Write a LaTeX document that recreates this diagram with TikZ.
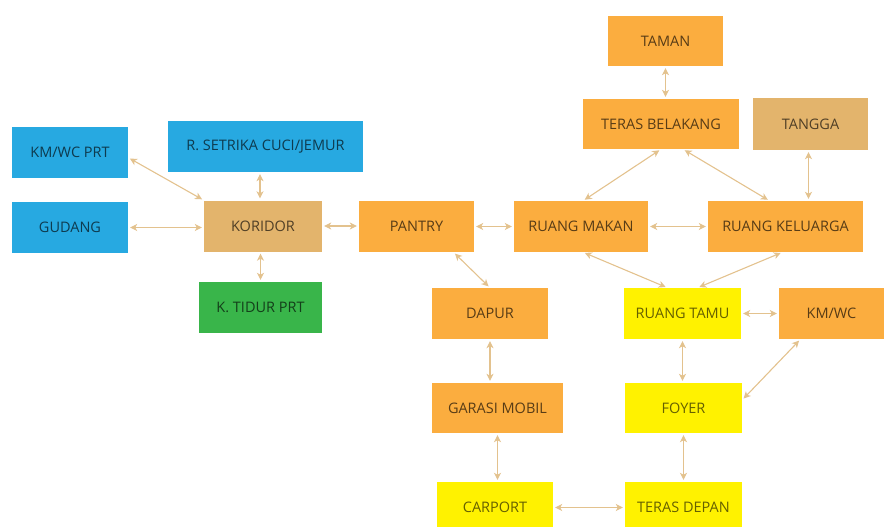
\documentclass[tikz,border=0pt]{standalone}
\usepackage{fontspec}
\setmainfont{Open Sans}
\usepackage{tikz}
\usetikzlibrary{positioning, arrows.meta, calc}

\definecolor{biru}{HTML}{27A9E1}
\definecolor{coklat}{HTML}{E3B46C}
\definecolor{oranye}{HTML}{FBAD3F}
\definecolor{kuning}{HTML}{FFF200}
\definecolor{hijau}{HTML}{39B54A}
\definecolor{panah}{HTML}{E3C28E}

\tikzset{
  room/.style={rectangle, inner sep=0pt, minimum height=51pt, font=\fontsize{14.5}{16}\selectfont},
  rblue/.style={room, fill=biru, text=biru!35!black},
  rtan/.style={room, fill=coklat, text=coklat!35!black},
  rorange/.style={room, fill=oranye, text=oranye!35!black},
  ryellow/.style={room, fill=kuning, text=kuning!40!black},
  rgreen/.style={room, fill=hijau, text=hijau!35!black},
  link/.style={draw=panah, line width=1.1pt, {Stealth[length=7pt,width=7pt,inset=2pt]}-{Stealth[length=7pt,width=7pt,inset=2pt]}, shorten >=2pt, shorten <=2pt}
}

\begin{document}
\begin{tikzpicture}[x=1pt, y=-1pt]
    \useasboundingbox (0,0) rectangle (884,527);

    % Service wing
    \node[rblue, minimum width=116pt] (kmwcprt) at (70,152.5) {KM/WC PRT};
    \node[rblue, minimum width=195pt] (setrika) at (265.5,146.5) {R. SETRIKA CUCI/JEMUR};
    \node[rblue, minimum width=116pt] (gudang) at (70,227.5) {GUDANG};
    \node[rtan, minimum width=118pt] (koridor) at (263,226) {KORIDOR};
    \node[rgreen, minimum width=123pt] (tidur) at (260.5,307.5) {K. TIDUR PRT};

    % Main rooms
    \node[rorange, minimum width=115pt] (pantry) at (416.5,226.5) {PANTRY};
    \node[rorange, minimum width=134pt] (makan) at (581,226.5) {RUANG MAKAN};
    \node[rorange, minimum width=155pt] (keluarga) at (785.5,226.5) {RUANG KELUARGA};
    \node[rorange, minimum width=115pt, minimum height=50pt] (taman) at (665.5,41) {TAMAN};
    \node[rorange, minimum width=156pt, minimum height=50pt] (belakang) at (661,124) {TERAS BELAKANG};
    \node[rtan, minimum width=115pt, minimum height=52pt] (tangga) at (810.5,124) {TANGGA};
    \node[rorange, minimum width=116pt] (dapur) at (490,313.5) {DAPUR};
    \node[ryellow, minimum width=117pt] (tamu) at (682.5,313.5) {RUANG TAMU};
    \node[rorange, minimum width=105pt] (kmwc) at (831.5,313.5) {KM/WC};
    \node[rorange, minimum width=131pt, minimum height=50pt] (garasi) at (497.5,408) {GARASI MOBIL};
    \node[ryellow, minimum width=117pt, minimum height=50pt] (foyer) at (683.5,408) {FOYER};
    \node[ryellow, minimum width=116pt] (carport) at (495,507.5) {CARPORT};
    \node[ryellow, minimum width=117pt] (depan) at (683.5,507.5) {TERAS DEPAN};

    % Connections
    \draw[link] (kmwcprt.-5) -- (koridor.north west);
    \draw[link] (gudang.east) -- (koridor.west |- gudang.east);
    \draw[link] ([xshift=-3pt]koridor.north) -- ([xshift=-3pt]koridor.north |- setrika.south);
    \draw[link] (koridor.south -| tidur.north) -- (tidur.north);
    \draw[link] (koridor.east) -- (pantry.west |- koridor.east);
    \draw[link] (pantry.east) -- (makan.west);
    \draw[link] (makan.east) -- (keluarga.west);
    \draw[link] (taman.south) -- (taman.south |- belakang.north);
    \draw[link] (belakang.south) -- ([xshift=2pt]makan.north);
    \draw[link] ([xshift=22pt]belakang.south) -- ([xshift=-16pt]keluarga.north);
    \draw[link] ([xshift=-2pt]tangga.south) -- ([xshift=-2pt]tangga.south |- keluarga.north);
    \draw[link] ([xshift=37pt]pantry.south) -- (dapur.north);
    \draw[link] ([xshift=2pt]makan.south) -- ([xshift=-15pt]tamu.north);
    \draw[link] ([xshift=-3pt]keluarga.south) -- ([xshift=15pt]tamu.north);
    \draw[link] (tamu.east) -- (kmwc.west);
    \draw[link] (dapur.south) -- (dapur.south |- garasi.north);
    \draw[link] (tamu.south) -- (tamu.south |- foyer.north);
    \draw[link] ([xshift=-31pt]kmwc.south) -- ([yshift=8pt]foyer.east);
    \draw[link] (garasi.south) -- (garasi.south |- carport.north);
    \draw[link] (foyer.south) -- (depan.north);
    \draw[link] (carport.east) -- (depan.west);
\end{tikzpicture}
\end{document}
